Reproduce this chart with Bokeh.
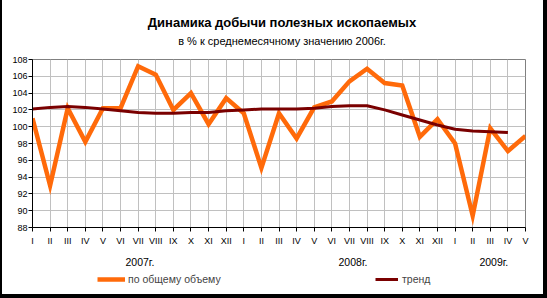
from bokeh.plotting import figure
from bokeh.models import Range1d, FixedTicker, Legend, LegendItem, LinearAxis
from bokeh.core.properties import value
from bokeh.layouts import column
from bokeh.embed import file_html
from bokeh.resources import INLINE

months = ["I", "II", "III", "IV", "V", "VI", "VII", "VIII", "IX", "X", "XI", "XII",
          "I", "II", "III", "IV", "V", "VI", "VII", "VIII", "IX", "X", "XI", "XII",
          "I", "II", "III", "IV", "V"]
total = [101.0, 93.0, 102.2, 98.2, 102.2, 102.2, 107.2, 106.2, 102.0, 104.0, 100.3, 103.4,
         101.6, 95.1, 101.6, 98.6, 102.3, 103.0, 105.4, 106.9, 105.2, 104.9, 98.8, 100.9,
         98.0, 89.4, 99.8, 97.1, 98.9]
trend = [102.1, 102.3, 102.4, 102.3, 102.1, 101.9, 101.7, 101.6, 101.6, 101.7, 101.7, 101.9,
         102.0, 102.1, 102.1, 102.1, 102.2, 102.4, 102.5, 102.5, 102.0, 101.4, 100.8, 100.2,
         99.7, 99.5, 99.4, 99.3]
years = ["2007г.", "2008г.", "2009г."]
year_pos = [6.1, 18.2, 26.2]
y_ticks = list(range(88, 109, 2))

title_text = "Динамика добычи полезных ископаемых"
subtitle_text = "в % к среднемесячному значению 2006г."
legend_labels = ["по общему объему", "тренд"]

FONT = "Liberation Sans"
ORANGE = "#ff6a0a"
DARKRED = "#7a0000"
XMAX = len(months) - 1

# ---- title strip ----
tf = figure(width=541, height=51, output_backend="svg", toolbar_location=None,
            x_range=Range1d(0, XMAX), y_range=Range1d(0, 51),
            x_axis_location=None, y_axis_location=None, min_border=0,
            background_fill_color="white", border_fill_color="white")
tf.outline_line_color = None
tf.grid.visible = False
tf.text(x=[XMAX / 2 + 0.17], y=[29], text=[title_text], text_font=value(FONT),
        text_font_size="13px", text_font_style="bold", text_align="center",
        text_baseline="middle", text_color="black")
tf.text(x=[XMAX / 2 + 0.17], y=[11], text=[subtitle_text], text_font=value(FONT),
        text_font_size="11px", text_align="center", text_baseline="middle", text_color="black")

# ---- main chart ----
p = figure(width=541, height=219, output_backend="svg", toolbar_location=None,
           x_range=Range1d(0, XMAX), y_range=Range1d(88, 108),
           min_border_left=30, min_border_right=18, min_border_top=8, min_border_bottom=42,
           background_fill_color="white", border_fill_color="white")
p.outline_line_color = "#808080"
p.outline_line_width = 1

xs = list(range(len(months)))
r1 = p.line(xs, total, line_color=ORANGE, line_width=4.5, line_join="miter")
r2 = p.line(xs[:len(trend)], trend, line_color=DARKRED, line_width=3)

p.xaxis.ticker = FixedTicker(ticks=xs)
p.xaxis.major_label_overrides = {i: m for i, m in enumerate(months)}
p.yaxis.ticker = FixedTicker(ticks=y_ticks)
p.xgrid.ticker = FixedTicker(ticks=xs)
p.ygrid.ticker = FixedTicker(ticks=y_ticks)
for g in (p.xgrid[0], p.ygrid[0]):
    g.grid_line_color = "#c0c0c0"
    g.grid_line_width = 1

for ax in (p.xaxis[0], p.yaxis[0]):
    ax.axis_line_color = "black"
    ax.axis_line_width = 1
    ax.major_tick_line_color = "black"
    ax.minor_tick_line_color = None
    ax.major_tick_in = 0
    ax.major_tick_out = 4
    ax.major_label_text_font = FONT
    ax.major_label_text_font_size = "9px"
    ax.major_label_text_color = "black"
p.xaxis.major_label_standoff = 4
p.yaxis.major_label_standoff = 1

year_axis = LinearAxis(ticker=FixedTicker(ticks=year_pos),
                       major_label_overrides={yp: yt for yp, yt in zip(year_pos, years)})
year_axis.axis_line_color = None
year_axis.major_tick_line_color = None
year_axis.minor_tick_line_color = None
year_axis.major_tick_in = 0
year_axis.major_tick_out = 0
year_axis.major_label_standoff = 7
year_axis.major_label_text_font = FONT
year_axis.major_label_text_font_size = "10.5px"
year_axis.major_label_text_color = "black"
p.add_layout(year_axis, "below")

# ---- legend strip ----
lf = figure(width=541, height=24, output_backend="svg", toolbar_location=None,
            x_range=Range1d(0, 1), y_range=Range1d(0, 1),
            x_axis_location=None, y_axis_location=None, min_border=0,
            background_fill_color="white", border_fill_color="white")
lf.outline_line_color = None
lf.grid.visible = False
d1 = lf.line([5, 6], [5, 6], line_color=ORANGE, line_width=4.5)
d2 = lf.line([5, 6], [5, 6], line_color=DARKRED, line_width=3)

leg1 = Legend(items=[LegendItem(label=legend_labels[0], renderers=[d1])], location=(65, 7),
              glyph_width=28, label_standoff=3)
leg2 = Legend(items=[LegendItem(label=legend_labels[1], renderers=[d2])], location=(343, 7),
              glyph_width=23, label_standoff=4)
for lg in (leg1, leg2):
    lg.padding = 0
    lg.margin = 0
    lg.border_line_alpha = 0
    lg.background_fill_alpha = 0
    lg.label_text_font = FONT
    lg.label_text_font_size = "10.5px"
    lg.label_height = 16
    lg.glyph_height = 16
    lf.add_layout(lg)

root = column(tf, p, lf, spacing=0,
              styles={"background-color": "white", "border-left": "2px solid black",
                      "border-right": "4px solid black", "border-bottom": "4px solid black"})

html = file_html(root, INLINE)
open("out.html", "w").write(html)
